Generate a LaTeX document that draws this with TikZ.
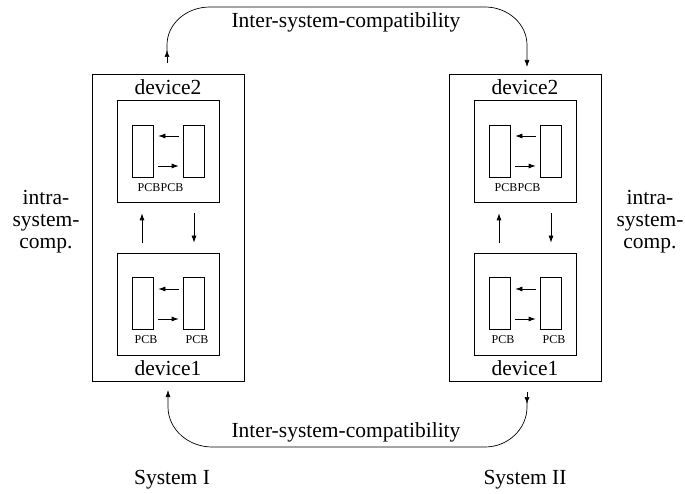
\documentclass[tikz,border=0pt]{standalone}
\usepackage{fontspec}
\setmainfont{Liberation Serif}
\usetikzlibrary{arrows.meta}
\tikzset{
  ln/.style={line width=0.7pt},
  outerbox/.style={draw, ln, minimum width=152pt, minimum height=307pt, inner sep=0pt},
  devbox/.style={draw, ln, minimum width=102pt, minimum height=102pt, inner sep=0pt},
  pcbbox/.style={draw, ln, minimum width=21pt, minimum height=52pt, inner sep=0pt},
  arr/.style={ln, -{Latex[length=7pt,width=5pt]}},
  big/.style={font=\fontsize{21.5}{22}\selectfont, inner sep=0pt},
  small/.style={font=\fontsize{12}{14}\selectfont, inner sep=0pt},
}
\newcommand\drawsystem[2]{%
  \begin{scope}[xshift=#2]
    \node[outerbox] (#1out) at (168,227.5) {};
    \node[devbox] (#1dtwo) at (168,151) {};
    \node[devbox] (#1done) at (168,304) {};
    \node[pcbbox] (#1ta) at (142.5,151) {};
    \node[pcbbox] (#1tb) at (193.5,151) {};
    \node[pcbbox] (#1ba) at (142.5,303.5) {};
    \node[pcbbox] (#1bb) at (193.5,303.5) {};
    \node[big] (#1ltwo) at (168,87) {device2};
    \node[big] (#1lone) at (168,368) {device1};
    \node[small, anchor=east] (#1pa) at (160.5,188) {PCB};
    \node[small, anchor=west] (#1pb) at (160.5,188) {PCB};
    \node[small] (#1pc) at (146,339.5) {PCB};
    \node[small] (#1pd) at (197,339.5) {PCB};
    % horizontal arrows between PCBs
    \draw[arr, shorten <=4pt, shorten >=5pt] ([yshift=15pt]#1tb.west) -- ([yshift=15pt]#1ta.east);
    \draw[arr, shorten <=5pt, shorten >=4pt] ([yshift=-15pt]#1ta.east) -- ([yshift=-15pt]#1tb.west);
    \draw[arr, shorten <=4pt, shorten >=5pt] ([yshift=14.5pt]#1bb.west) -- ([yshift=14.5pt]#1ba.east);
    \draw[arr, shorten <=5pt, shorten >=4pt] ([yshift=-15.5pt]#1ba.east) -- ([yshift=-15.5pt]#1bb.west);
    % vertical arrows between devices
    \draw[arr, shorten <=10pt, shorten >=11pt] ([xshift=-26pt]#1done.north) -- ([xshift=-26pt]#1dtwo.south);
    \draw[arr, shorten <=11pt, shorten >=10pt] ([xshift=26pt]#1dtwo.south) -- ([xshift=26pt]#1done.north);
  \end{scope}}
\begin{document}
\begin{tikzpicture}[x=1pt,y=-1pt]
  \useasboundingbox (0,0) rectangle (685,494);
  \drawsystem{L}{0pt}
  \drawsystem{R}{357pt}
  % side labels
  \node[big, align=center] (intraL) at (46,222) {intra-\\system-\\comp.};
  \node[big, align=center] (intraR) at (650,222) {intra-\\system-\\comp.};
  % top connector
  \coordinate (tA) at (167,63);
  \coordinate (tB) at (167,50);
  \coordinate (tC) at (167,52);
  \coordinate (tD) at (527,67);
  \draw[arr] (tA) -- (tB);
  \draw[arr] (tC) -- (167,45) .. controls (167,24) and (186,7) .. (210,7)
        -- (485,7) .. controls (508,7) and (527,24) .. (527,45) -- (tD);
  \node[big] (topl) at (346,22) {Inter-system-compatibility};
  % bottom connector
  \coordinate (bA) at (527,392);
  \coordinate (bB) at (527,404);
  \coordinate (bC) at (527,402);
  \coordinate (bD) at (168,390);
  \draw[arr] (bA) -- (bB);
  \draw[arr] (bC) -- (527,407) .. controls (527,429) and (508,447) .. (485,447)
        -- (212,447) .. controls (188,447) and (168,429) .. (168,407) -- (bD);
  \node[big] (botl) at (346,432) {Inter-system-compatibility};
  % system names
  \node[big] (sysI) at (172,480) {System I};
  \node[big] (sysII) at (525,480) {System II};
\end{tikzpicture}
\end{document}
